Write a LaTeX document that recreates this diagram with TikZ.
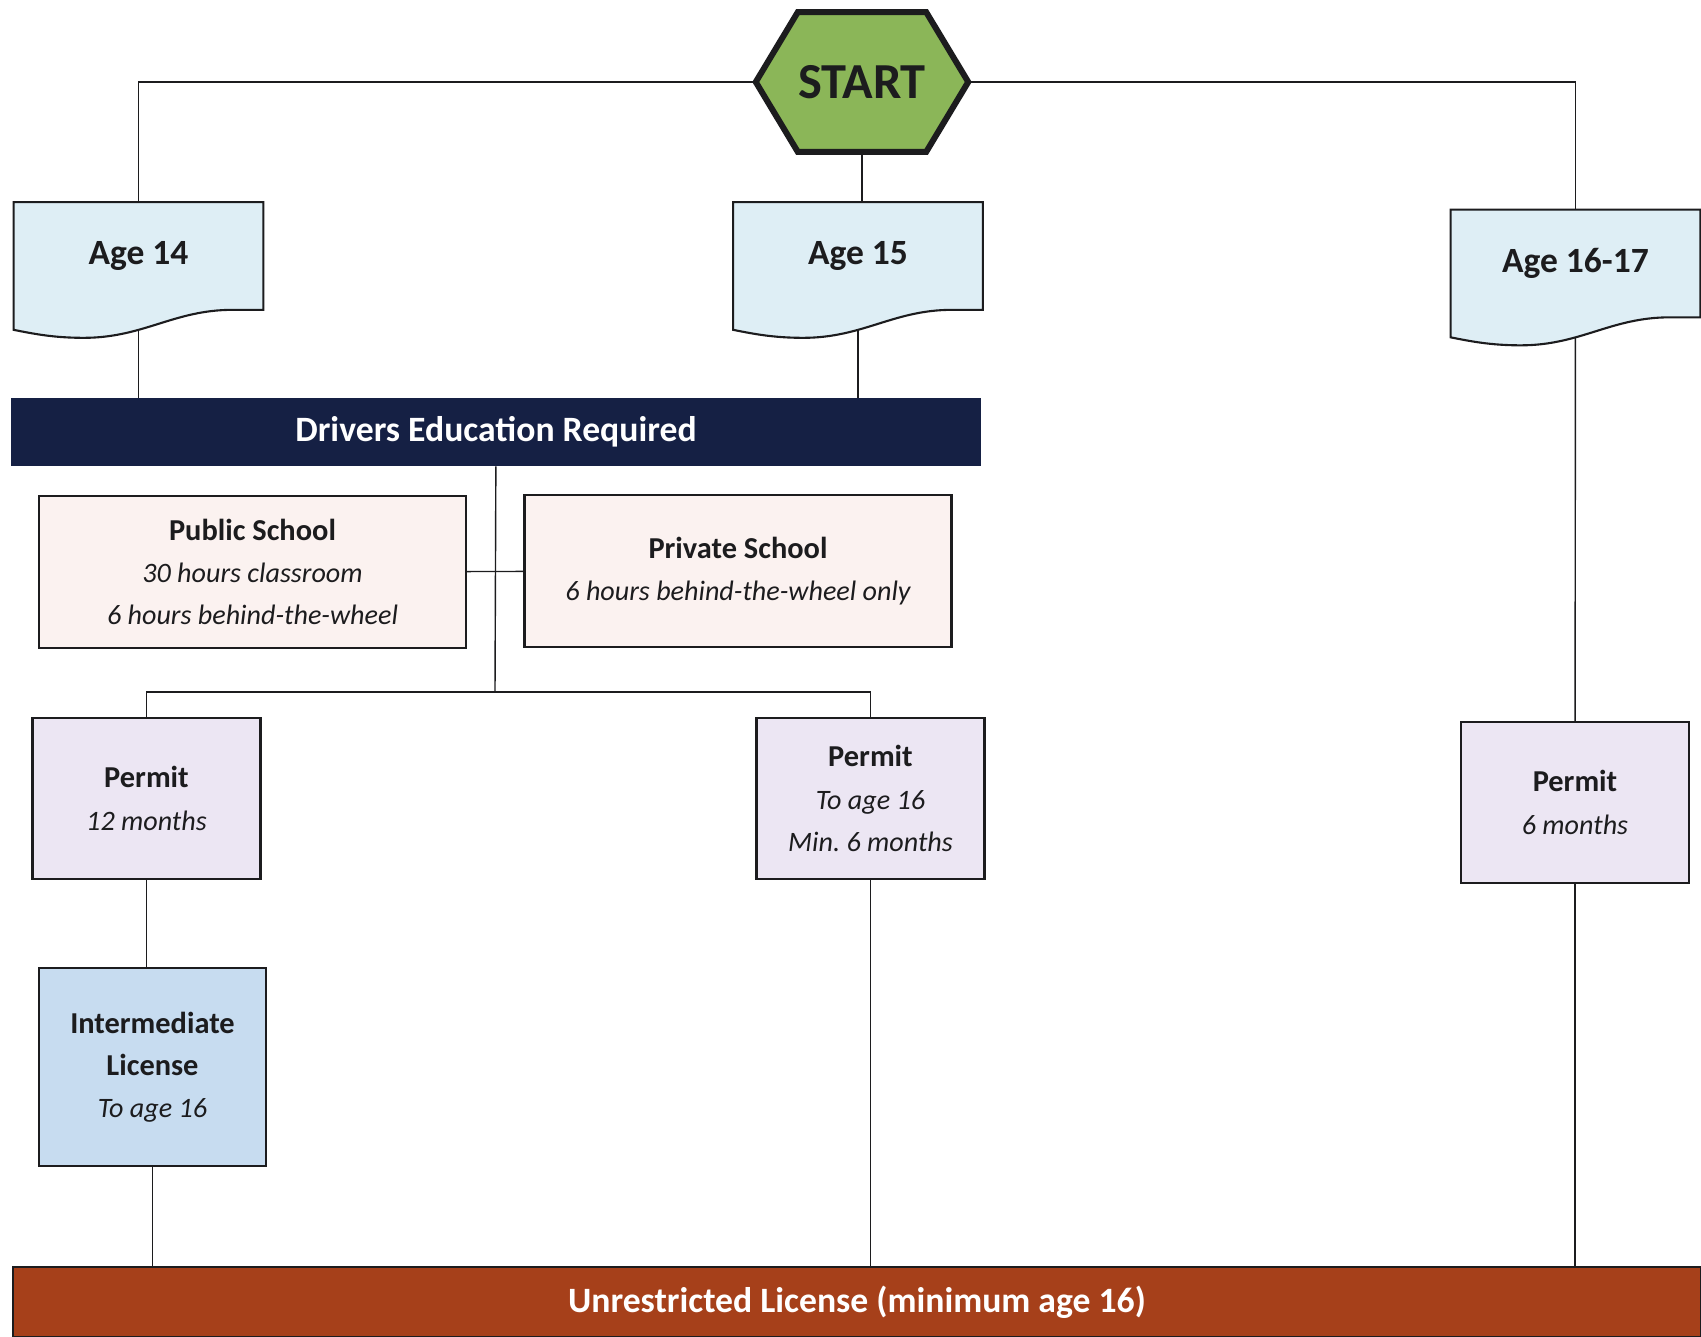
\documentclass[tikz,border=0pt]{standalone}
\usepackage{fontspec}
\setmainfont{Carlito}
\usetikzlibrary{calc,backgrounds}
\definecolor{startgreen}{RGB}{139,182,88}
\definecolor{agefill}{RGB}{222,238,245}
\definecolor{navybar}{RGB}{21,32,68}
\definecolor{schoolfill}{RGB}{251,242,240}
\definecolor{permitfill}{RGB}{236,230,243}
\definecolor{ilfill}{RGB}{199,220,240}
\definecolor{rustbar}{RGB}{166,64,26}
\definecolor{ink}{RGB}{28,28,30}
\frenchspacing
\newcommand{\boxnote}[1]{{\fontsize{16}{24}\selectfont\itshape #1}}
\newcommand{\docshape}[1]{%
  \filldraw[fill=agefill,draw=ink,line width=1.2pt] (#1.north west) -- (#1.north east) -- (#1.south east)
    -- ($(#1.south west)+(219,0)$) .. controls ($(#1.south west)+(160,0)$) and ($(#1.south west)+(130,28)$) .. ($(#1.south west)+(70,28)$)
    .. controls ($(#1.south west)+(40,28)$) and ($(#1.south west)+(20,24)$) .. ($(#1.south west)+(0,20)$) -- cycle;}
\tikzset{
  line/.style={draw=ink,line width=0.8pt},
  box/.style={draw=ink,line width=1.2pt,text=ink,align=center,inner sep=0pt,font=\fontsize{17.3}{24}\selectfont},
  agebox/.style={inner sep=0pt,minimum width=4.98cm,minimum height=2.14cm,text=ink,font=\fontsize{20.2}{24}\selectfont\bfseries},
  bar/.style={inner sep=0pt,text=white,font=\fontsize{20.3}{24}\selectfont\bfseries},
  schoolbox/.style={box,fill=schoolfill,minimum width=8.54cm,minimum height=3.04cm},
  permitbox/.style={box,fill=permitfill,minimum width=4.56cm,minimum height=3.22cm},
}

\begin{document}
\begin{tikzpicture}[x=0.02cm,y=-0.02cm]
  \useasboundingbox (0,0) rectangle (1701,1337);
  \node[inner sep=0pt,minimum width=2.54cm,minimum height=2.78cm,text=ink,font=\fontsize{28.7}{30}\selectfont\bfseries] (start) at (862,82) {START};
  \node[agebox] (a14) at (138.5,256) {Age 14};
  \node[agebox] (a15) at (858,256) {Age 15};
  \node[agebox] (a1617) at (1575.5,263.5) {Age 16-17};
  \node[bar,fill=navybar,minimum width=19.4cm,minimum height=1.36cm] (drivers) at (496,432) {Drivers Education Required};
  \node[schoolbox] (public) at (252.5,572) {\textbf{Public School}\\\boxnote{30 hours classroom}\\\boxnote{6 hours behind-the-wheel}};
  \node[schoolbox] (private) at (738,571) {\textbf{Private School}\\\boxnote{6 hours behind-the-wheel only}};
  \coordinate (split) at (495,692);
  \node[permitbox] (permit1) at (146.5,798.5) {\textbf{Permit}\\\boxnote{12 months}};
  \node[permitbox] (permit2) at (870.5,798.5) {\textbf{Permit}\\\boxnote{To age 16}\\\boxnote{Min. 6 months}};
  \node[permitbox] (permit3) at (1575,802.5) {\textbf{Permit}\\\boxnote{6 months}};
  \node[box,fill=ilfill,minimum width=4.54cm,minimum height=3.96cm] (ilicense) at (152.5,1067) {\textbf{Intermediate}\\\textbf{License}\\\boxnote{To age 16}};
  \node[bar,fill=rustbar,draw=ink,line width=1.2pt,minimum width=33.76cm,minimum height=1.4cm] (unres) at (857,1302) {Unrestricted License (minimum age 16)};
  \begin{scope}[on background layer]
    \draw[line] (start) -| (a14);
    \draw[line] (start) -| (a1617);
    \draw[line] (start) -- (start |- a15);
    \draw[line] (a14) -- (a14 |- drivers);
    \draw[line] (a15) -- (a15 |- drivers);
    \draw[line] (drivers) -- (split);
    \draw[line] (public) -- (private);
    \draw[line] (split) -| (permit1);
    \draw[line] (split) -| (permit2);
    \draw[line] (permit1) -- (permit1 |- ilicense);
    \draw[line] (ilicense) -- (ilicense |- unres);
    \draw[line] (permit2) -- (permit2 |- unres);
    \draw[line] (a1617) -- (permit3);
    \draw[line] (permit3) -- (permit3 |- unres);
    \docshape{a14}
    \docshape{a15}
    \docshape{a1617}
    \filldraw[fill=startgreen,draw=ink,line width=3.4pt] (start.north west) -- (start.north east) -- ($(start.east)+(42,0)$)
      -- (start.south east) -- (start.south west) -- ($(start.west)+(-42,0)$) -- cycle;
  \end{scope}
\end{tikzpicture}
\end{document}
